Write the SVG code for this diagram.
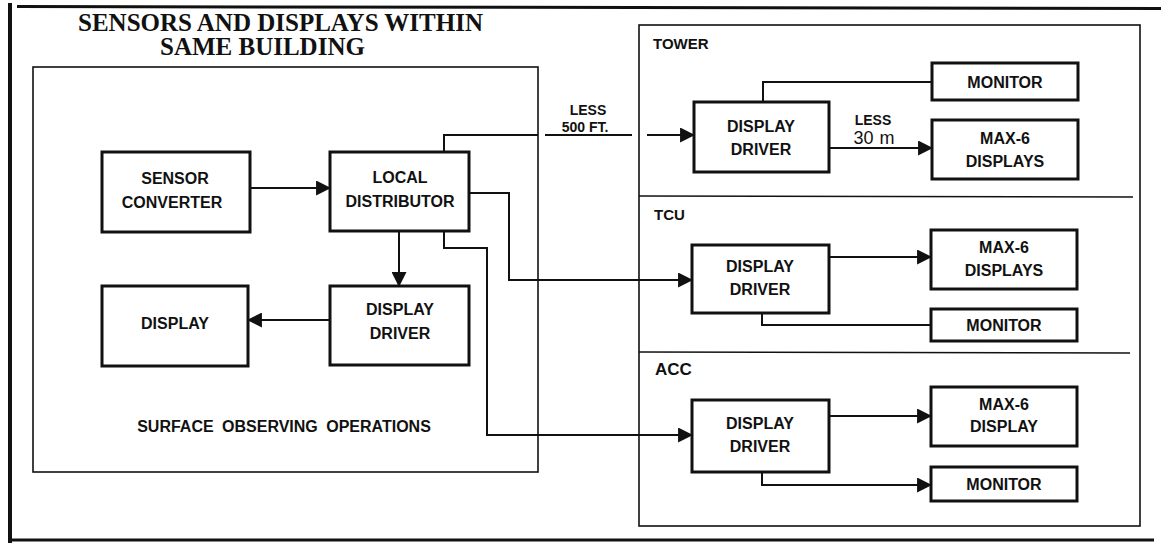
<svg xmlns="http://www.w3.org/2000/svg" width="1161" height="544" viewBox="0 0 1161 544">
  <defs>
    <marker id="ah" markerUnits="userSpaceOnUse" markerWidth="15" markerHeight="15" viewBox="0 0 14 14" refX="13" refY="7" orient="auto">
      <path d="M0,0 L14,7 L0,14 z" fill="#111"/>
    </marker>
    <style>
      .frame { stroke: #111; fill: none; }
      .cont { stroke: #111; stroke-width: 1.6; fill: none; }
      .box { stroke: #111; stroke-width: 3; fill: #fff; }
      .conn { stroke: #111; stroke-width: 2; fill: none; }
      .lbl { font-family: "Liberation Sans", Arial, sans-serif; font-weight: bold; font-size: 16px; fill: #111; text-anchor: middle; }
      .sec { font-family: "Liberation Sans", Arial, sans-serif; font-weight: bold; font-size: 15px; fill: #111; }
      .title { font-family: "Liberation Serif", "Times New Roman", serif; font-weight: bold; font-size: 25px; fill: #111; }
    </style>
  </defs>
  <rect x="0" y="0" width="1161" height="544" fill="#fff"/>

  <!-- outer frame -->
  <g id="frame">
    <line class="frame" x1="17" y1="6.5" x2="1161" y2="8.5" stroke-width="3"/>
    <line class="frame" x1="10" y1="3" x2="10" y2="543" stroke-width="4"/>
    <line class="frame" x1="12" y1="540" x2="1154" y2="540" stroke-width="3"/>
  </g>

  <!-- title -->
  <g id="title">
    <text class="title" x="78" y="31">SENSORS AND DISPLAYS WITHIN</text>
    <text class="title" x="160" y="55">SAME BUILDING</text>
  </g>

  <!-- containers -->
  <g id="surface-observing">
    <rect class="cont" x="33" y="67" width="505" height="405"/>
    <text class="lbl" x="284" y="432" style="word-spacing:4px">SURFACE OBSERVING OPERATIONS</text>
  </g>
  <g id="remote-sites">
    <rect class="cont" x="639" y="25" width="501" height="501"/>
    <line class="cont" x1="639" y1="196" x2="1133" y2="197"/>
    <line class="cont" x1="639" y1="352" x2="1130" y2="353"/>
    <text class="sec" x="653" y="49">TOWER</text>
    <text class="sec" x="654" y="220">TCU</text>
    <text class="sec" x="655" y="375" style="font-size:17px">ACC</text>
  </g>

  <!-- nodes -->
  <g id="sensor-converter">
    <rect class="box" x="102" y="152" width="148" height="80"/>
    <text class="lbl" x="175" y="184">SENSOR</text>
    <text class="lbl" x="172" y="208">CONVERTER</text>
  </g>
  <g id="local-distributor">
    <rect class="box" x="330" y="152" width="139" height="79"/>
    <text class="lbl" x="400" y="183">LOCAL</text>
    <text class="lbl" x="400" y="207">DISTRIBUTOR</text>
  </g>
  <g id="display">
    <rect class="box" x="102" y="286" width="146" height="80"/>
    <text class="lbl" x="175" y="329">DISPLAY</text>
  </g>
  <g id="local-display-driver">
    <rect class="box" x="330" y="286" width="139" height="79"/>
    <text class="lbl" x="400" y="315">DISPLAY</text>
    <text class="lbl" x="400" y="339">DRIVER</text>
  </g>

  <g id="tower-display-driver">
    <rect class="box" x="694" y="102" width="135" height="70"/>
    <text class="lbl" x="761" y="132">DISPLAY</text>
    <text class="lbl" x="761" y="155">DRIVER</text>
  </g>
  <g id="tower-monitor">
    <rect class="box" x="932" y="63" width="146" height="37"/>
    <text class="lbl" x="1005" y="88">MONITOR</text>
  </g>
  <g id="tower-max6">
    <rect class="box" x="932" y="120" width="146" height="59"/>
    <text class="lbl" x="1005" y="144">MAX-6</text>
    <text class="lbl" x="1005" y="167">DISPLAYS</text>
  </g>

  <g id="tcu-display-driver">
    <rect class="box" x="692" y="245" width="137" height="68"/>
    <text class="lbl" x="760" y="272">DISPLAY</text>
    <text class="lbl" x="760" y="295">DRIVER</text>
  </g>
  <g id="tcu-max6">
    <rect class="box" x="931" y="230" width="146" height="59"/>
    <text class="lbl" x="1004" y="253">MAX-6</text>
    <text class="lbl" x="1004" y="276">DISPLAYS</text>
  </g>
  <g id="tcu-monitor">
    <rect class="box" x="931" y="309" width="146" height="32"/>
    <text class="lbl" x="1004" y="331">MONITOR</text>
  </g>

  <g id="acc-display-driver">
    <rect class="box" x="692" y="400" width="137" height="72"/>
    <text class="lbl" x="760" y="429">DISPLAY</text>
    <text class="lbl" x="760" y="452">DRIVER</text>
  </g>
  <g id="acc-max6">
    <rect class="box" x="931" y="387" width="146" height="59"/>
    <text class="lbl" x="1004" y="410">MAX-6</text>
    <text class="lbl" x="1004" y="432">DISPLAY</text>
  </g>
  <g id="acc-monitor">
    <rect class="box" x="931" y="467" width="146" height="34"/>
    <text class="lbl" x="1004" y="490">MONITOR</text>
  </g>

  <!-- connectors -->
  <g id="connectors">
    <path class="conn" d="M250,188 H330" marker-end="url(#ah)"/>
    <path class="conn" d="M444,152 V135 H538"/>
    <path class="conn" d="M545,135 H632"/>
    <path class="conn" d="M647,135 H694" marker-end="url(#ah)"/>
    <path class="conn" d="M469,193 H509 V280 H692" marker-end="url(#ah)"/>
    <path class="conn" d="M444,231 V248 H487 V435 H692" marker-end="url(#ah)"/>
    <path class="conn" d="M399,231 V286" marker-end="url(#ah)"/>
    <path class="conn" d="M330,320 H248" marker-end="url(#ah)"/>
    <path class="conn" d="M763,102 V82 H932"/>
    <path class="conn" d="M829,148 H932" marker-end="url(#ah)"/>
    <path class="conn" d="M829,257 H931" marker-end="url(#ah)"/>
    <path class="conn" d="M762,313 V325 H931"/>
    <path class="conn" d="M829,416 H931" marker-end="url(#ah)"/>
    <path class="conn" d="M762,472 V485 H931" marker-end="url(#ah)"/>
  </g>

  <!-- connector labels -->
  <g id="connector-labels">
    <text class="lbl" x="588" y="115" style="font-size:14px">LESS</text>
    <text class="lbl" x="585" y="132" style="font-size:14px">500 FT.</text>
    <text class="lbl" x="873" y="125" style="font-size:14px">LESS</text>
    <text class="lbl" x="874" y="144" style="font-size:18px;font-weight:normal;word-spacing:1px">30 m</text>
  </g>
</svg>
